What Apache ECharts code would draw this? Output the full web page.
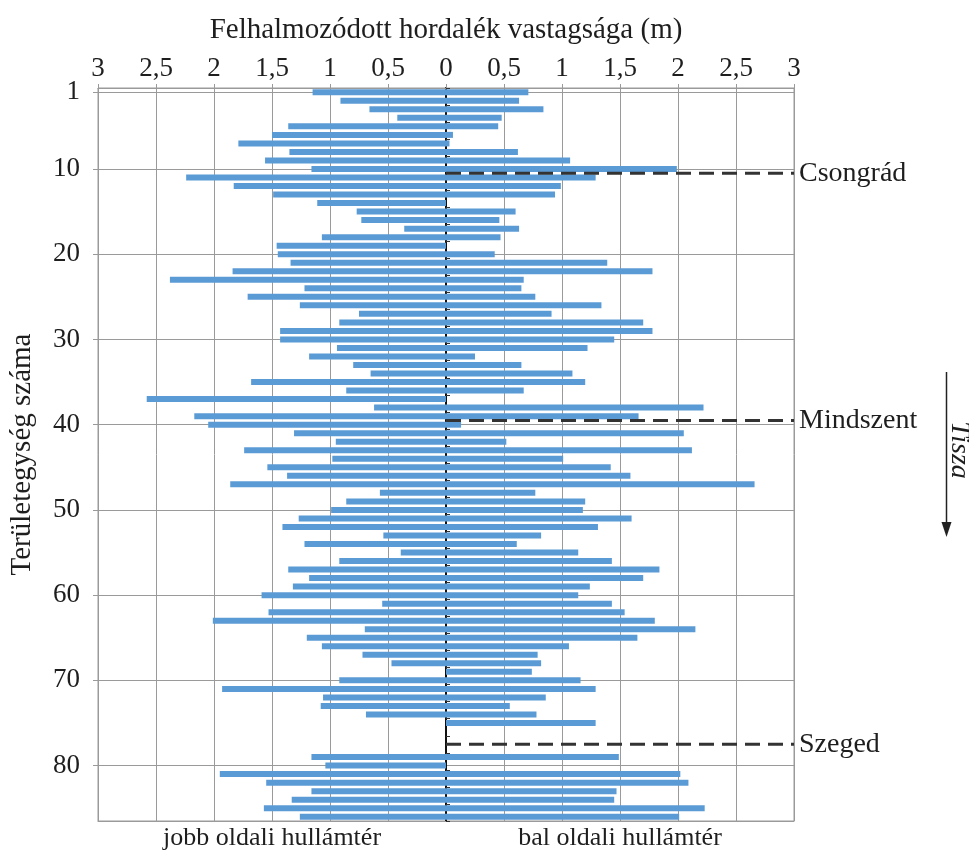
<!DOCTYPE html>
<html><head><meta charset="utf-8">
<script src="https://cdn.jsdelivr.net/npm/echarts@6/dist/echarts.min.js"></script>
<style>html,body{margin:0;padding:0;background:#fff}#c{width:969px;height:856px}</style>
</head><body><div id="c"></div>
<script>
// Area units (Területegység) 1..86
const units = ['1','2','3','4','5','6','7','8','9','10','11','12','13','14','15','16','17','18','19','20',
'21','22','23','24','25','26','27','28','29','30','31','32','33','34','35','36','37','38','39','40',
'41','42','43','44','45','46','47','48','49','50','51','52','53','54','55','56','57','58','59','60',
'61','62','63','64','65','66','67','68','69','70','71','72','73','74','75','76','77','78','79','80',
'81','82','83','84','85','86'];
// jobb oldali hullámtér (drawn to the left), m
const rightFloodplain = [
1.15,0.91,0.66,0.42,1.36,1.50,1.79,1.35,1.56,1.16,
2.24,1.83,1.49,1.11,0.77,0.73,0.36,1.07,1.46,1.45,
1.34,1.84,2.38,1.22,1.71,1.26,0.75,0.92,1.43,1.43,
0.94,1.18,0.80,0.65,1.68,0.86,2.58,0.62,2.17,2.05,
1.31,0.95,1.74,0.98,1.54,1.37,1.86,0.57,0.86,0.99,
1.27,1.41,0.54,1.22,0.39,0.92,1.36,1.18,1.32,1.59,
0.55,1.53,2.01,0.70,1.20,1.07,0.72,0.47,0,0.92,
1.93,1.06,1.08,0.69,0,0,0,0,1.16,1.04,
1.95,1.55,1.16,1.33,1.57,1.26];
// bal oldali hullámtér (drawn to the right), m
const leftFloodplain = [
0.71,0.63,0.84,0.48,0.45,0.06,0.03,0.62,1.07,1.99,
1.29,0.99,0.94,0,0.60,0.46,0.63,0.47,0,0.42,
1.39,1.78,0.67,0.65,0.77,1.34,0.91,1.70,1.78,1.45,
1.22,0.25,0.65,1.09,1.20,0.67,0,2.22,1.66,0.13,
2.05,0.52,2.12,1.01,1.42,1.59,2.66,0.77,1.20,1.18,
1.60,1.31,0.82,0.61,1.14,1.43,1.84,1.70,1.24,1.14,
1.43,1.54,1.80,2.15,1.65,1.06,0.79,0.82,0.74,1.16,
1.29,0.86,0.55,0.78,1.29,0,0,0,1.49,0,
2.02,2.09,1.47,1.45,2.23,2.01];
const yTickLabels = ['1','10','20','30','40','50','60','70','80'];
const sideLabels = ['jobb oldali hullámtér','bal oldali hullámtér'];
const towns = ['Csongrád','Mindszent','Szeged'];
const townAfterUnit = [10, 39, 77];
const xTitle = 'Felhalmozódott hordalék vastagsága (m)';
const yTitle = 'Területegység száma';

const FONT = 'Liberation Serif';
const TXT = '#1e1e1e';
const GRID = '#9a9a9a';
const chart = echarts.init(document.getElementById('c'));
const isLabel = (i, v) => yTickLabels.includes(v);

const townSeries = towns.map((t, k) => ({
  type: 'line', xAxisIndex: 0, yAxisIndex: 2, silent: true, symbol: 'none',
  data: [[0, townAfterUnit[k] + 0.5], [3, townAfterUnit[k] + 0.5]],
  lineStyle: {color: '#333', width: 3, type: [15, 8]},
  endLabel: {show: true, formatter: t, fontFamily: FONT, fontSize: 28, color: TXT, distance: 5},
  z: 5, animation: false
}));

chart.setOption({
  animation: false,
  grid: {left: 98, right: 175, top: 88, bottom: 35, show: true, borderColor: GRID, borderWidth: 1},
  xAxis: [{
    type: 'value', min: -3, max: 3, interval: 0.5, position: 'top',
    name: xTitle, nameLocation: 'middle', nameGap: 43,
    nameTextStyle: {fontFamily: FONT, fontSize: 29, color: TXT},
    axisLine: {onZero: false, lineStyle: {color: GRID}},
    axisTick: {show: true, length: 4, lineStyle: {color: GRID}},
    axisLabel: {fontFamily: FONT, fontSize: 27, color: TXT, margin: 6,
      formatter: v => String(Math.abs(v)).replace('.', ',')},
    splitLine: {show: true, lineStyle: {color: GRID, width: 1}}
  }, {
    type: 'value', min: -3, max: 3, interval: 1.5, position: 'bottom',
    axisLine: {onZero: false, lineStyle: {color: GRID}},
    axisTick: {show: false}, splitLine: {show: false},
    axisLabel: {fontFamily: FONT, fontSize: 26, color: TXT, margin: 4,
      formatter: v => v === -1.5 ? sideLabels[0] : (v === 1.5 ? sideLabels[1] : '')}
  }],
  yAxis: [{
    type: 'category', data: units, inverse: true, position: 'left',
    name: yTitle, nameLocation: 'middle', nameGap: 61,
    nameTextStyle: {fontFamily: FONT, fontSize: 29, color: TXT},
    axisLine: {onZero: false, lineStyle: {color: GRID}},
    axisTick: {show: true, alignWithLabel: true, interval: isLabel, length: 5, lineStyle: {color: GRID}},
    axisLabel: {interval: isLabel, fontFamily: FONT, fontSize: 27, color: TXT, margin: 18, align: 'right'},
    splitLine: {show: true, alignWithLabel: true, interval: isLabel, lineStyle: {color: GRID, width: 1}}
  }, {
    type: 'category', data: units, inverse: true, position: 'right',
    axisLine: {onZero: true, lineStyle: {color: '#111', width: 2}},
    axisTick: {show: true, length: 4, lineStyle: {color: '#333'}},
    axisLabel: {show: false}, splitLine: {show: false}
  }, {
    type: 'value', min: 0.5, max: 86.5, inverse: true, show: false
  }],
  series: [{
    type: 'bar', name: sideLabels[0], xAxisIndex: 0, yAxisIndex: 0,
    data: rightFloodplain.map(v => -v), barWidth: 6, barGap: '-100%',
    itemStyle: {color: '#5b9bd5'}, silent: true
  }, {
    type: 'bar', name: sideLabels[1], xAxisIndex: 0, yAxisIndex: 0,
    data: leftFloodplain, barWidth: 6, barGap: '-100%',
    itemStyle: {color: '#5b9bd5'}, silent: true
  }].concat(townSeries),
  graphic: [
    {type: 'line', shape: {x1: 946.5, y1: 372, x2: 946.5, y2: 526}, style: {stroke: '#222', lineWidth: 1.5}},
    {type: 'polygon', shape: {points: [[941.5, 522], [951.5, 522], [946.5, 537]]}, style: {fill: '#222'}},
    {type: 'text', x: 959, y: 450, rotation: -Math.PI / 2,
     style: {text: 'Tisza', align: 'center', verticalAlign: 'middle', fill: TXT,
       font: 'italic 28px "Liberation Serif"'}}
  ]
});
</script></body></html>
